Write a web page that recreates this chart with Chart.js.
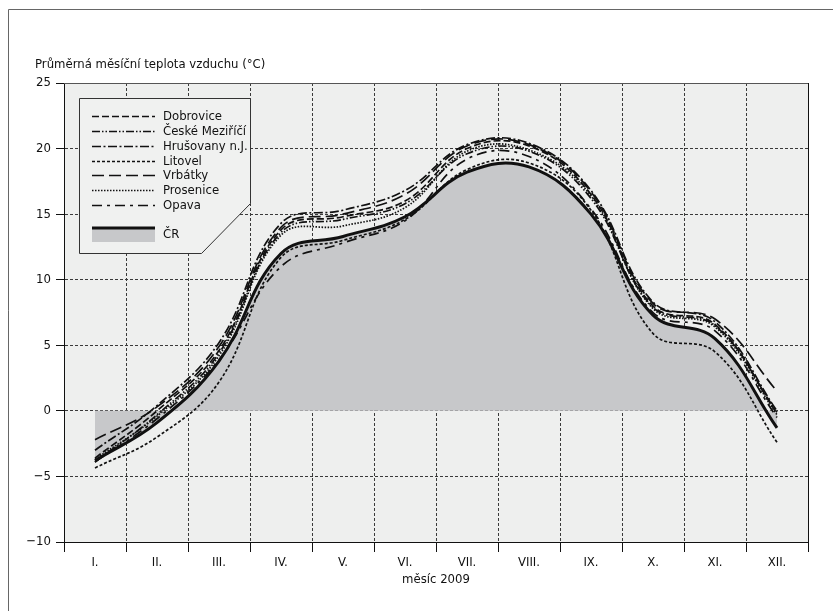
<!DOCTYPE html>
<html>
<head>
<meta charset="utf-8">
<script src="https://cdn.jsdelivr.net/npm/chart.js@4/dist/chart.umd.min.js"></script>
<style>
  html, body { margin: 0; padding: 0; background: #fff; }
  #wrap { width: 833px; height: 611px; }
</style>
</head>
<body>
<div id="wrap"><canvas id="chart" width="833" height="611"></canvas></div>
<script>
// months on the x axis
const months = ['I.', 'II.', 'III.', 'IV.', 'V.', 'VI.', 'VII.', 'VIII.', 'IX.', 'X.', 'XI.', 'XII.'];

// monthly mean air temperature 2009 (°C)
const dobrovice  = [-3.6, 0.0, 4.6, 13.8, 14.8, 16.0, 20.0, 20.2, 16.5, 8.0, 6.6, -0.2];
const ceskeMez   = [-3.9, -0.3, 4.4, 13.6, 14.6, 15.8, 19.6, 19.8, 16.2, 7.9, 6.5, -0.1];
const hrusovany  = [-3.0, 0.4, 5.2, 14.3, 15.3, 16.8, 20.3, 20.4, 16.8, 8.3, 6.8, 0.0];
const litovel    = [-4.35, -2.0, 2.2, 11.7, 13.0, 14.6, 18.4, 18.9, 15.3, 5.9, 4.5, -2.4];
const vrbatky    = [-2.2, 0.3, 4.9, 14.0, 15.0, 16.5, 20.2, 20.3, 16.7, 8.2, 7.0, 1.5];
const prosenice  = [-3.7, -0.4, 4.2, 13.4, 14.1, 15.5, 19.8, 19.9, 16.4, 7.8, 6.4, -0.3];
const opava      = [-3.9, -0.6, 3.9, 11.0, 12.8, 14.5, 19.2, 19.4, 15.4, 7.5, 6.1, -0.5];
const cr         = [-3.8, -0.9, 3.8, 12.0, 13.3, 14.8, 18.2, 18.6, 15.0, 7.3, 5.5, -1.3];

const yTicks = [-10, -5, 0, 5, 10, 15, 20, 25];

const FONT = "'Liberation Sans Narrow', 'Arial Narrow', 'DejaVu Sans Condensed', sans-serif";
const INK = '#111';
const PLOT_BG = '#eeefee';
const FILL_GRAY = '#c7c8ca';

Chart.defaults.font.family = FONT;
Chart.defaults.font.size = 13;
Chart.defaults.color = INK;

function station(label, data, dash) {
    return {
        label: label,
        data: data,
        borderColor: INK,
        borderWidth: 1.7,
        borderDash: dash,
        pointRadius: 0,
        tension: 0.4,
        fill: false
    };
}

const datasets = [
    station('Dobrovice', dobrovice, [7, 3]),
    station('České Meziříčí', ceskeMez, [8, 2, 1.5, 2, 1.5, 2]),
    station('Hrušovany n.J.', hrusovany, [9, 2.5, 2, 2.5]),
    station('Litovel', litovel, [3, 2]),
    station('Vrbátky', vrbatky, [12, 5]),
    station('Prosenice', prosenice, [1.5, 1.5]),
    station('Opava', opava, [10, 5, 3, 5]),
    {
        label: 'ČR',
        data: cr,
        borderColor: INK,
        borderWidth: 3,
        pointRadius: 0,
        tension: 0.4,
        fill: 'origin',
        backgroundColor: FILL_GRAY
    }
];

// background of the plot, outer frame, plot border, texts and the cut-corner legend
const decor = {
    id: 'decor',
    beforeDraw(chart) {
        const { ctx, chartArea: a } = chart;
        ctx.save();
        ctx.fillStyle = PLOT_BG;
        ctx.fillRect(a.left, a.top, a.right - a.left, a.bottom - a.top);
        ctx.restore();
    },
    afterDraw(chart) {
        const { ctx, chartArea: a } = chart;
        ctx.save();

        // outer frame
        ctx.strokeStyle = '#666';
        ctx.lineWidth = 1;
        ctx.beginPath();
        ctx.moveTo(8.5, 611);
        ctx.lineTo(8.5, 9.5);
        ctx.lineTo(833, 9.5);
        ctx.stroke();

        // top and right border of plot
        ctx.strokeStyle = '#555';
        ctx.beginPath();
        ctx.moveTo(a.left, a.top + 0.5);
        ctx.lineTo(a.right, a.top + 0.5);
        ctx.stroke();
        ctx.strokeStyle = INK;
        ctx.beginPath();
        ctx.moveTo(a.right + 0.5, a.top);
        ctx.lineTo(a.right + 0.5, a.bottom);
        ctx.stroke();

        // texts
        ctx.fillStyle = INK;
        ctx.font = '13px ' + FONT;
        ctx.textBaseline = 'middle';
        ctx.textAlign = 'left';
        ctx.fillText('Průměrná měsíční teplota vzduchu (°C)', 35, 65);
        ctx.textAlign = 'center';
        ctx.fillText('měsíc 2009', (a.left + a.right) / 2, 580);

        // legend box
        ctx.fillStyle = '#f0f1f0';
        ctx.strokeStyle = '#333';
        ctx.lineWidth = 1;
        ctx.beginPath();
        ctx.moveTo(79.5, 98.5);
        ctx.lineTo(250.5, 98.5);
        ctx.lineTo(250.5, 203.5);
        ctx.lineTo(201.5, 253.5);
        ctx.lineTo(79.5, 253.5);
        ctx.closePath();
        ctx.fill();
        ctx.stroke();

        ctx.textAlign = 'left';
        ctx.font = '13px ' + FONT;
        const ds = chart.data.datasets;
        for (let i = 0; i < 7; i++) {
            const y = Math.round(116 + i * 14.85) + 0.5;
            ctx.strokeStyle = INK;
            ctx.lineWidth = 1.7;
            ctx.setLineDash(ds[i].borderDash);
            ctx.beginPath();
            ctx.moveTo(92, y);
            ctx.lineTo(155, y);
            ctx.stroke();
            ctx.setLineDash([]);
            ctx.fillStyle = INK;
            ctx.fillText(ds[i].label, 163, y);
        }
        ctx.fillStyle = FILL_GRAY;
        ctx.fillRect(92, 228, 63, 14);
        ctx.strokeStyle = INK;
        ctx.lineWidth = 3;
        ctx.beginPath();
        ctx.moveTo(92, 228);
        ctx.lineTo(155, 228);
        ctx.stroke();
        ctx.fillStyle = INK;
        ctx.fillText(ds[7].label, 163, 235);

        ctx.restore();
    }
};

new Chart(document.getElementById('chart'), {
    type: 'line',
    data: { labels: months, datasets: datasets },
    plugins: [decor],
    options: {
        responsive: false,
        animation: false,
        layout: { padding: { left: 0, top: 83, right: 25, bottom: 0 } },
        plugins: {
            legend: { display: false },
            tooltip: { enabled: false },
            title: { display: false }
        },
        scales: {
            x: {
                type: 'category',
                offset: true,
                z: 1,
                grid: {
                    offset: true,
                    color: '#3a3a3a',
                    lineWidth: 1,
                    tickLength: 10,
                    tickColor: INK,
                    tickWidth: 1,
                    tickBorderDash: [],
                    drawTicks: true
                },
                border: { display: true, color: INK, width: 1, dash: [3, 2] },
                ticks: { color: INK, padding: 3, font: { size: 13 }, maxRotation: 0, autoSkip: false },
                afterFit(scale) { scale.height = 69; }
            },
            y: {
                min: yTicks[0],
                max: yTicks[yTicks.length - 1],
                z: 1,
                afterBuildTicks(scale) { scale.ticks = yTicks.map(v => ({ value: v })); },
                grid: {
                    color: '#3a3a3a',
                    lineWidth: 1,
                    tickLength: 8,
                    tickColor: INK,
                    tickWidth: 1,
                    tickBorderDash: []
                },
                border: { display: true, color: INK, width: 1, dash: [3, 2] },
                ticks: {
                    color: INK,
                    padding: 5,
                    font: { size: 13 },
                    callback: v => (v < 0 ? '\u2212' + Math.abs(v) : String(v))
                },
                afterFit(scale) { scale.width = 64; }
            }
        }
    }
});
</script>
</body>
</html>
